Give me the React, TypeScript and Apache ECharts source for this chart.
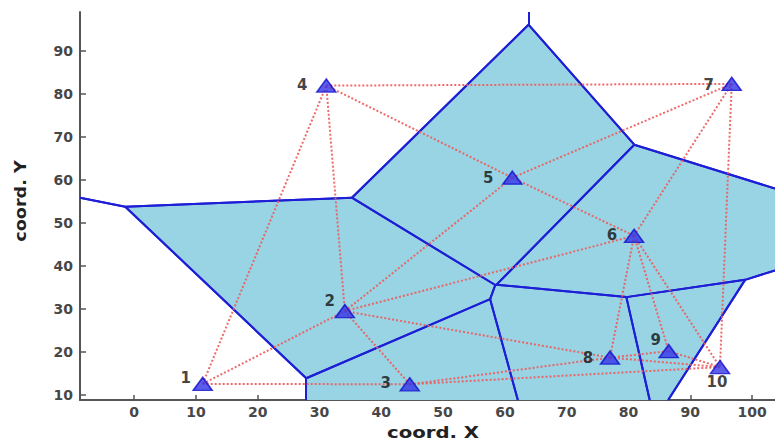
import React, { useEffect, useRef } from "react";
import * as echarts from "echarts";

// ---- data ----
const pointNames = ["1", "2", "3", "4", "5", "6", "7", "8", "9", "10"];
const pointX = [11.1, 34.1, 44.6, 31.1, 61.2, 80.9, 96.7, 77.0, 86.5, 94.8];
const pointY = [12.6, 29.5, 12.5, 81.9, 60.5, 47.0, 82.3, 18.7, 20.2, 16.5];
// Delaunay edges (red dotted), by point name
const delaunayEdges: [string, string][] = [
  ["1", "2"], ["1", "3"], ["1", "4"], ["2", "3"], ["2", "4"], ["2", "5"],
  ["2", "6"], ["2", "8"], ["3", "8"], ["3", "10"], ["4", "5"], ["4", "7"],
  ["5", "6"], ["5", "7"], ["6", "7"], ["6", "8"], ["6", "9"], ["6", "10"],
  ["7", "10"], ["8", "9"], ["8", "10"], ["9", "10"],
];
// Voronoi cells that are shaded
const shadedCells = ["2", "3", "5", "6", "8", "9"];
const xTicks = [0, 10, 20, 30, 40, 50, 60, 70, 80, 90, 100];
const yTicks = [10, 20, 30, 40, 50, 60, 70, 80, 90];
const xRange = [-8.75, 103.7];
const yRange = [8.85, 99];

// ---- styles (not data) ----
const labelOffsets: Record<string, [number, number]> = {
  "1": [-17, -6], "2": [-15, -10], "3": [-24, -1], "4": [-24, -1], "5": [-24, 0],
  "6": [-22, -1], "7": [-23, 1], "8": [-22, 0], "9": [-13, -11], "10": [-3, 15],
};

type P = [number, number];

function clipHalf(poly: P[], a: number, b: number, c: number): P[] {
  const out: P[] = [];
  for (let i = 0; i < poly.length; i++) {
    const p = poly[i];
    const q = poly[(i + 1) % poly.length];
    const fp = a * p[0] + b * p[1] - c;
    const fq = a * q[0] + b * q[1] - c;
    if (fp <= 0) out.push(p);
    if ((fp < 0 && fq > 0) || (fp > 0 && fq < 0)) {
      const t = fp / (fp - fq);
      out.push([p[0] + t * (q[0] - p[0]), p[1] + t * (q[1] - p[1])]);
    }
  }
  return out;
}

function voronoiCells(): P[][] {
  const [x0, x1] = xRange;
  const [y0, y1] = yRange;
  return pointX.map((xi, i) => {
    const yi = pointY[i];
    let poly: P[] = [[x0, y0], [x1, y0], [x1, y1], [x0, y1]];
    pointX.forEach((xj, j) => {
      if (j === i) return;
      const yj = pointY[j];
      const a = xj - xi;
      const b = yj - yi;
      const c = (xj * xj + yj * yj - xi * xi - yi * yi) / 2;
      poly = clipHalf(poly, a, b, c);
    });
    return poly;
  });
}

function voronoiEdges(cells: P[][]): [P, P][] {
  const [x0, x1] = xRange;
  const [y0, y1] = yRange;
  const eps = 1e-6;
  const onSame = (p: P, q: P) =>
    (Math.abs(p[0] - x0) < eps && Math.abs(q[0] - x0) < eps) ||
    (Math.abs(p[0] - x1) < eps && Math.abs(q[0] - x1) < eps) ||
    (Math.abs(p[1] - y0) < eps && Math.abs(q[1] - y0) < eps) ||
    (Math.abs(p[1] - y1) < eps && Math.abs(q[1] - y1) < eps);
  const edges: [P, P][] = [];
  cells.forEach((poly) => {
    for (let i = 0; i < poly.length; i++) {
      const p = poly[i];
      const q = poly[(i + 1) % poly.length];
      if (!onSame(p, q)) edges.push([p, q]);
    }
  });
  return edges;
}

export default function App() {
  const ref = useRef<HTMLDivElement>(null);
  useEffect(() => {
    if (!ref.current) return;
    const chart = echarts.init(ref.current, undefined, { renderer: "svg" });
    const cells = voronoiCells();
    const vEdges = voronoiEdges(cells);
    const shadedIdx = shadedCells.map((n) => pointNames.indexOf(n));
    const idx = (n: string) => pointNames.indexOf(n);

    const axisLabelStyle = {
      color: "#474747",
      fontFamily: "DejaVu Sans",
      fontWeight: "bold" as const,
      fontSize: 14,
    };

    chart.setOption({
      animation: false,
      backgroundColor: "#ffffff",
      grid: { left: 80, top: 12, right: 0, bottom: 41, containLabel: false, outerBoundsMode: "none" },
      xAxis: {
        type: "value",
        min: xRange[0],
        max: xRange[1],
        axisLine: { onZero: false, lineStyle: { color: "#555", width: 2 } },
        axisTick: { inside: true, length: 5, customValues: xTicks, lineStyle: { color: "#555", width: 1.5 } },
        axisLabel: { ...axisLabelStyle, margin: 5, customValues: xTicks },
        splitLine: { show: false },
      },
      yAxis: {
        type: "value",
        min: yRange[0],
        max: yRange[1],
        axisLine: { onZero: false, lineStyle: { color: "#555", width: 2 } },
        axisTick: { inside: true, length: 6, customValues: yTicks, lineStyle: { color: "#555", width: 1.5 } },
        axisLabel: { ...axisLabelStyle, margin: 7, customValues: yTicks },
        splitLine: { show: false },
      },
      graphic: [
        {
          type: "text",
          x: 433,
          y: 432,
          scaleX: 1.23,
          style: {
            text: "coord. X",
            font: 'bold 16px "DejaVu Sans"',
            fill: "#222",
            textAlign: "center",
            textVerticalAlign: "middle",
          },
        },
        {
          type: "text",
          x: 20,
          y: 201,
          rotation: Math.PI / 2,
          scaleX: 1.1,
          style: {
            text: "coord. Y",
            font: 'bold 16px "DejaVu Sans"',
            fill: "#222",
            textAlign: "center",
            textVerticalAlign: "middle",
          },
        },
      ],
      series: [
        {
          type: "custom",
          name: "cells",
          clip: true,
          silent: true,
          data: shadedIdx.map((i) => [pointX[i], pointY[i]]),
          renderItem: (params: any, api: any) => {
            const poly = cells[shadedIdx[params.dataIndex]];
            return {
              type: "polygon",
              shape: { points: poly.map((p) => api.coord(p)) },
              style: { fill: "#98d4e4", stroke: "none" },
            };
          },
          z: 1,
        },
        {
          type: "lines",
          name: "voronoi",
          coordinateSystem: "cartesian2d",
          silent: true,
          data: vEdges.map((e) => ({ coords: [e[0], e[1]] })),
          lineStyle: { color: "#1e1ed6", width: 2, opacity: 1 },
          z: 2,
        },
        {
          type: "lines",
          name: "delaunay",
          coordinateSystem: "cartesian2d",
          silent: true,
          data: delaunayEdges.map(([a, b]) => ({
            coords: [
              [pointX[idx(a)], pointY[idx(a)]],
              [pointX[idx(b)], pointY[idx(b)]],
            ],
          })),
          lineStyle: { color: "#f05a5a", width: 2, type: [2, 2], opacity: 0.9 },
          z: 3,
        },
        {
          type: "scatter",
          name: "points",
          symbol: "triangle",
          symbolSize: [19, 13],
          itemStyle: { color: "#3535e6", borderColor: "#1010cc", borderWidth: 1.5 },
          data: pointNames.map((n, i) => ({
            name: n,
            value: [pointX[i], pointY[i]],
            label: {
              show: true,
              position: "inside",
              offset: labelOffsets[n],
              formatter: "{b}",
              color: "#111",
              fontFamily: "DejaVu Sans",
              fontWeight: "bold",
              fontSize: 15,
            },
          })),
          z: 4,
        },
      ],
    });
    return () => chart.dispose();
  }, []);
  return (
    <div
      ref={ref}
      style={{ position: "fixed", left: 0, top: 0, width: 775, height: 441, background: "#fff" }}
    />
  );
}
